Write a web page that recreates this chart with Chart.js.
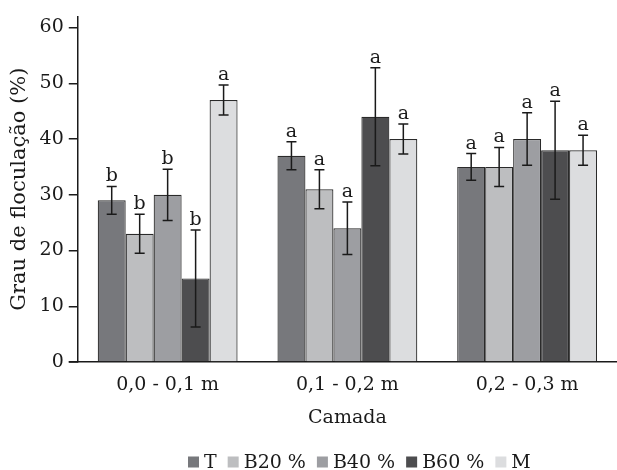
<!DOCTYPE html>
<html>
<head>
<meta charset="utf-8">
<script src="https://cdn.jsdelivr.net/npm/chart.js@4.4.0/dist/chart.umd.min.js"></script>
<style>
  html, body { margin: 0; padding: 0; background: #fff; }
  #wrap { width: 617px; height: 470px; }
</style>
</head>
<body>
<div id="wrap"><canvas id="chart"></canvas></div>
<script>
const camadas = ['0,0 - 0,1 m', '0,1 - 0,2 m', '0,2 - 0,3 m']
const seriesNames = ['T', 'B20 %', 'B40 %', 'B60 %', 'M']

// mean values per treatment (one value per layer)
const valT   = [29, 37, 35]
const valB20 = [23, 31, 35]
const valB40 = [30, 24, 40]
const valB60 = [15, 44, 38]
const valM   = [47, 40, 38]

// error bar half-lengths
const errT   = [2.5, 2.5, 2.4]
const errB20 = [3.5, 3.5, 3.5]
const errB40 = [4.6, 4.7, 4.7]
const errB60 = [8.7, 8.8, 8.8]
const errM   = [2.7, 2.7, 2.7]

// letters from the mean comparison test
const letT   = ['b', 'a', 'a']
const letB20 = ['b', 'a', 'a']
const letB40 = ['b', 'a', 'a']
const letB60 = ['b', 'a', 'a']
const letM   = ['a', 'a', 'a']

const yTicks = [0, 10, 20, 30, 40, 50, 60]

const colors = ['#77787c', '#bdbec0', '#9d9ea2', '#4d4d4f', '#dcdddf']
const values = [valT, valB20, valB40, valB60, valM]
const errors = [errT, errB20, errB40, errB60, errM]
const letters = [letT, letB20, letB40, letB60, letM]

const FONT = "'DejaVu Serif', serif"
const INK = '#1a1a1a'

const errorBars = {
  id: 'errorBars',
  afterDatasetsDraw(chart) {
    const ctx = chart.ctx
    const y = chart.scales.y
    ctx.save()
    ctx.strokeStyle = INK
    ctx.lineWidth = 1.5
    ctx.fillStyle = INK
    ctx.font = '19px ' + FONT
    ctx.textAlign = 'center'
    ctx.textBaseline = 'alphabetic'
    chart.data.datasets.forEach((ds, i) => {
      const meta = chart.getDatasetMeta(i)
      meta.data.forEach((bar, j) => {
        const v = values[i][j], e = errors[i][j]
        const top = y.getPixelForValue(v + e)
        const bot = y.getPixelForValue(v - e)
        ctx.beginPath()
        ctx.moveTo(bar.x, top); ctx.lineTo(bar.x, bot)
        ctx.moveTo(bar.x - 5, top); ctx.lineTo(bar.x + 5, top)
        ctx.moveTo(bar.x - 5, bot); ctx.lineTo(bar.x + 5, bot)
        ctx.stroke()
        ctx.fillText(letters[i][j], bar.x, top - 5)
      })
    })
    // x axis line runs a little left of the y axis
    const a = chart.chartArea
    ctx.beginPath()
    ctx.moveTo(a.left - 9, y.getPixelForValue(0))
    ctx.lineTo(a.left, y.getPixelForValue(0))
    ctx.stroke()
    ctx.restore()
  }
}

// legend drawn by hand: tight box/text spacing like the original
const legendRow = {
  id: 'legendRow',
  afterDraw(chart) {
    const ctx = chart.ctx
    ctx.save()
    ctx.font = '19px ' + FONT
    ctx.textBaseline = 'alphabetic'
    ctx.textAlign = 'left'
    let x = 188
    seriesNames.forEach((name, i) => {
      ctx.fillStyle = colors[i]
      ctx.fillRect(x, 456.5, 11, 11)
      x += 11 + 5
      ctx.fillStyle = INK
      ctx.fillText(name, x, 468)
      x += ctx.measureText(name).width + 11
    })
    ctx.restore()
  }
}

new Chart(document.getElementById('chart'), {
  type: 'bar',
  data: {
    labels: camadas,
    datasets: seriesNames.map((name, i) => ({
      label: name,
      data: values[i],
      backgroundColor: colors[i],
      borderColor: '#2a2a2a',
      borderWidth: 1.2,
      barPercentage: 1,
      categoryPercentage: 0.778
    }))
  },
  options: {
    responsive: true,
    maintainAspectRatio: false,
    animation: false,
    layout: { padding: { top: 4, right: 0, left: 6, bottom: 42 } },
    scales: {
      x: {
        grid: { display: true, drawOnChartArea: false, drawTicks: false },
        border: { display: true, color: INK, width: 1.5 },
        ticks: { color: INK, font: { family: FONT, size: 19, lineHeight: 1 }, padding: 14 },
        title: { display: true, text: 'Camada', color: INK, font: { family: FONT, size: 19, lineHeight: 1 }, padding: { top: 0, bottom: 0 } }
      },
      y: {
        min: 0,
        max: 62,
        afterBuildTicks: (scale) => { scale.ticks = yTicks.map(v => ({ value: v })) },
        grid: { display: true, drawOnChartArea: false, drawTicks: true, tickLength: 9, color: INK, lineWidth: 1.5 },
        border: { display: true, color: INK, width: 1.5 },
        ticks: { color: INK, font: { family: FONT, size: 19 }, padding: 5 },
        title: { display: true, text: 'Grau de floculação (%)', color: INK, font: { family: FONT, size: 21 }, padding: { top: 1.4, bottom: 2 } }
      }
    },
    plugins: {
      legend: { display: false },
      tooltip: { enabled: false }
    }
  },
  plugins: [errorBars, legendRow]
})
</script>
</body>
</html>
